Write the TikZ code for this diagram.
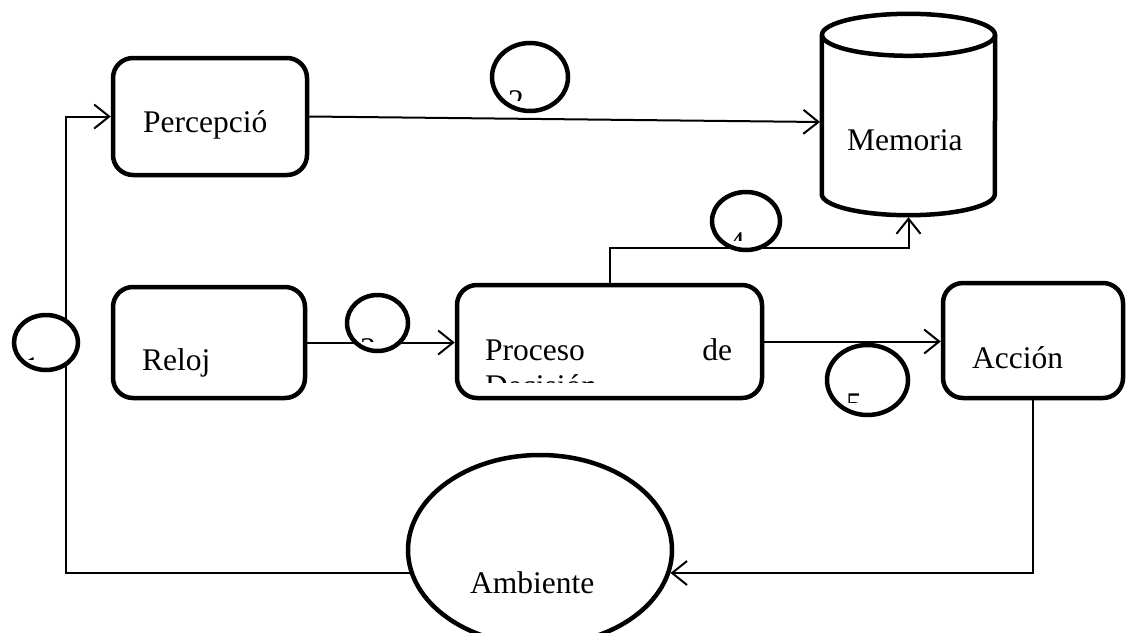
\documentclass[tikz,border=0pt]{standalone}
\usepackage{fontspec}
\setmainfont{Liberation Serif}
\usetikzlibrary{arrows.meta,shapes.geometric}

\tikzset{
  box/.style={draw, line width=4.5pt, rounded corners=20pt, fill=white, inner sep=0pt},
  lbl/.style={anchor=base west, inner sep=0pt, font=\fontsize{31.5}{36}\selectfont},
  conn/.style={line width=2pt},
  arr/.style={conn, -{Straight Barb[length=15pt,width=24pt,line width=2pt]}},
  numc/.style={draw, ellipse, line width=4.5pt, fill=white, inner sep=0pt},
  cyl/.style={line width=4.5pt},
}

\begin{document}
\begin{tikzpicture}[x=1pt,y=-1pt]
\useasboundingbox (0,0) rectangle (1126,632);

% blocks
\node[box, minimum width=194pt, minimum height=117pt] (perc) at (210,116.5) {};
\node[box, minimum width=192pt, minimum height=111pt] (rel)  at (209,342.5) {};
\node[box, minimum width=305pt, minimum height=113pt] (proc) at (609.5,341.5) {};
\node[box, minimum width=180pt, minimum height=115pt] (acc)  at (1033,340.5) {};
\node[draw, ellipse, line width=4.5pt, fill=white, minimum width=264pt, minimum height=190pt, inner sep=0pt] (amb) at (540,550) {};

% memory drum
\node[minimum width=173pt, minimum height=201pt, inner sep=0pt] (mem) at (908.5,114.5) {};
\draw[cyl] ([yshift=-21pt]mem.north) ellipse[x radius=86.5pt, y radius=21pt];
\draw[cyl] ([yshift=-21pt]mem.north west) -- ([yshift=21pt]mem.south west)
  arc[start angle=180, end angle=360, x radius=86.5pt, y radius=21pt]
  -- ([yshift=-21pt]mem.north east);

% block texts
\node[lbl] (tperc) at (143,132) {Percepció};
\node[lbl] (trel)  at (142,370) {Reloj};
\node[lbl] (tacc)  at (972,368) {Acción};
\node[lbl] (tmem)  at (847,150) {Memoria};
\node[lbl] (tamb)  at (470,593) {Ambiente};
\node[lbl] (tproc) at (485,360) {\makebox[247pt][l]{Proceso\hfill de}};
\begin{scope}
  \clip (460,360) rectangle (760,382);
  \node[lbl] (tdec) at (485,396) {Decisión};
\end{scope}

% connectors
\coordinate (lft) at (66,0);
\coordinate (memin) at (820,122);
\coordinate (bend) at (0,248);
\draw[arr] (amb.190) -| (lft |- perc.west) -- (perc.west);
\draw[arr] (perc.east) -- (memin);
\draw[arr] (rel.east) -- (proc.west |- rel.east);
\draw[arr] (proc.east) -- (acc.west |- proc.east);
\draw[arr] (proc.north) |- (bend -| mem.south) -- ([yshift=-2pt]mem.south);
\draw[arr] (acc.south) |- (amb.350);

% numbered markers
\node[numc, minimum width=76pt, minimum height=68pt] (c2) at (530,77) {};
\node[numc, minimum width=68pt, minimum height=58pt] (c4) at (746,221) {};
\node[numc, minimum width=61pt, minimum height=56pt] (c3) at (377.5,323) {};
\node[numc, minimum width=64pt, minimum height=55pt] (c1) at (46,342.5) {};
\node[numc, minimum width=81pt, minimum height=70pt] (c5) at (867.5,380) {};

\begin{scope}
  \clip (490,40) rectangle (570,100);
  \node[lbl] (d2) at (508,111) {2};
\end{scope}
\begin{scope}
  \clip (710,190) rectangle (782,240);
  \node[lbl] (d4) at (729,253) {4};
\end{scope}
\begin{scope}
  \clip (345,293) rectangle (410,341.5);
  \node[lbl] (d3) at (360,359) {3};
\end{scope}
\begin{scope}
  \clip (12,313) rectangle (80,359);
  \node[lbl] (d1) at (24,378) {1};
\end{scope}
\begin{scope}
  \clip (825,343) rectangle (910,402);
  \node[lbl] (d5) at (846,414) {5};
\end{scope}
\end{tikzpicture}
\end{document}
